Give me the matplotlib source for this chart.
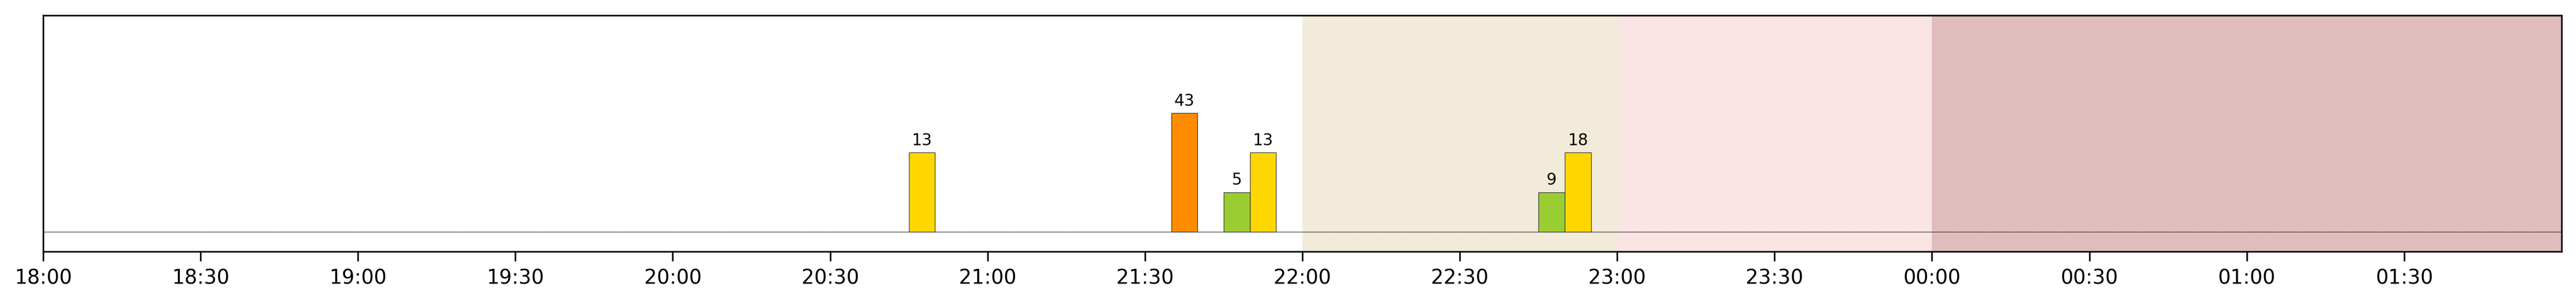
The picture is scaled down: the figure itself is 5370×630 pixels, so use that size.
import matplotlib
matplotlib.use("Agg")
import matplotlib.pyplot as plt
import matplotlib.dates as mdates
import pandas as pd

# 5-minute bins that had events, their alert level and event count
bin_starts = ["20:45", "21:35", "21:45", "21:50", "22:45", "22:50"]
levels = [2, 3, 1, 2, 1, 2]
counts = [13, 43, 5, 13, 9, 18]

LEVEL_COLORS = {1: "#9ACD32", 2: "#FFD700", 3: "#FF8C00"}

# night-time bands behind the bars
band_starts = ["22:00", "23:00", "00:00"]
band_ends = ["23:00", "00:00", "02:00"]
band_colors = ["#F2EBDA", "#FAE5E4", "#E0BDBD"]

START = pd.Timestamp("2024-01-01 18:00")
END = pd.Timestamp("2024-01-02 02:00")


def at(hhmm):
    t = pd.Timestamp("2024-01-01 " + hhmm)
    return t if t >= START else t + pd.Timedelta(days=1)


all_bins = pd.date_range(START, END, freq="5min", inclusive="left")
width = 5 / 1440

fig = plt.figure(figsize=(17.9, 2.1), dpi=300)
ax = fig.add_axes([0.01676, 0.1698, 0.97765, 0.7794])

for s, e, c in zip(band_starts, band_ends, band_colors):
    ax.axvspan(at(s), at(e), color=c, lw=0, zorder=0)

# empty bins: zero-height bars, only their edges show as a baseline
ax.bar(all_bins, [0] * len(all_bins), width=width, align="edge",
       edgecolor="#2b2b2b", linewidth=0.3, zorder=2)

xs = [at(b) for b in bin_starts]
bars = ax.bar(xs, levels, width=width, align="edge",
              color=[LEVEL_COLORS[l] for l in levels],
              edgecolor="#2b2b2b", linewidth=0.3, zorder=3)
ax.bar_label(bars, labels=[str(c) for c in counts], padding=2, fontsize=8)

ax.set_xlim(START, END)
ax.set_ylim(-0.5, 5.47)
ax.set_yticks([])
# half-hour ticks, last one at 01:30 (no label at the right edge)
ax.set_xticks(pd.date_range(START, END, freq="30min", inclusive="left"))
ax.xaxis.set_major_formatter(mdates.DateFormatter("%H:%M"))
ax.tick_params(axis="x", labelsize=10, length=4.8)

fig.savefig("out.png", dpi=300, facecolor="white")
